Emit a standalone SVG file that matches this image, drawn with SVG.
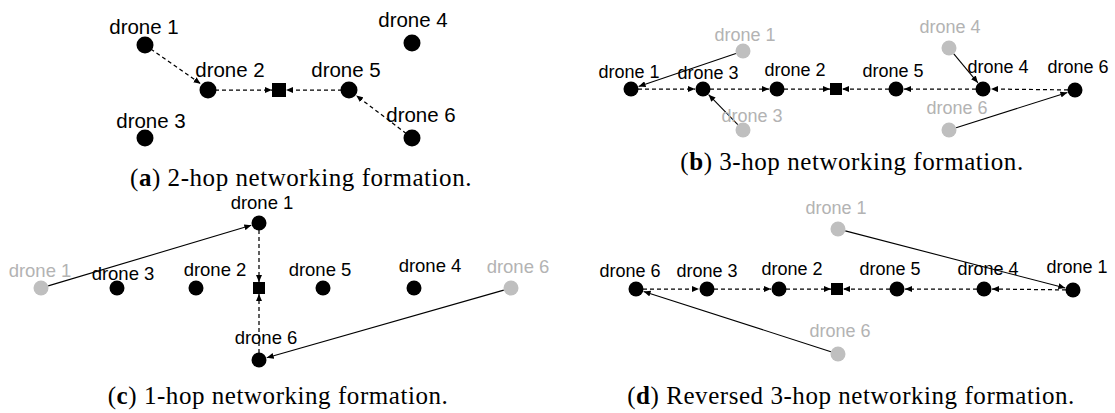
<svg xmlns="http://www.w3.org/2000/svg" width="1115" height="413" viewBox="0 0 1115 413">
  <style>
    .lbl { font-family: "Liberation Sans", Arial, sans-serif; fill: #000; text-anchor: middle; }
    .a { font-size: 20.5px; }
    .s { font-size: 18px; }
    .c { font-size: 18.5px; }
    .ghost { fill: #b3b3b3; }
    .dot { fill: #000; }
    .gdot { fill: #bfbfbf; }
    .dash { stroke: #000; stroke-width: 1.25; stroke-dasharray: 4 3; fill: none; marker-end: url(#tip); }
    .move { stroke: #000; stroke-width: 1.1; fill: none; marker-end: url(#tip); }
    .cap { font-family: "Liberation Serif", "Times New Roman", serif; font-size: 25px; letter-spacing: 0.55px; text-anchor: middle; fill: #000; }
  </style>
  <defs>
    <marker id="tip" viewBox="0 0 7 6" refX="7" refY="3" markerWidth="7" markerHeight="6" markerUnits="userSpaceOnUse" orient="auto">
      <path d="M0,0 L7,3 L0,6 z" fill="#000"/>
    </marker>
  </defs>

  <!-- links and relocation moves -->
  <g id="connectors">
    <!-- (a) 2-hop -->
    <line class="dash" x1="145" y1="45" x2="200.6" y2="83.8"/>
    <line class="dash" x1="208" y1="90" x2="272" y2="90"/>
    <line class="dash" x1="349" y1="90" x2="286" y2="90"/>
    <line class="dash" x1="412" y1="138" x2="356.2" y2="95.5"/>
    <!-- (b) 3-hop -->
    <line class="dash" x1="631" y1="89" x2="695" y2="89"/>
    <line class="dash" x1="703" y1="89" x2="769" y2="89"/>
    <line class="dash" x1="777" y1="89" x2="830" y2="89"/>
    <line class="dash" x1="896" y1="89" x2="842" y2="89"/>
    <line class="dash" x1="983" y1="89" x2="904" y2="89"/>
    <line class="dash" x1="1075" y1="90" x2="991" y2="89"/>
    <line class="move" x1="735.9" y1="53.4" x2="638.6" y2="86.4"/>
    <line class="move" x1="737.8" y1="124.6" x2="708.6" y2="94.7"/>
    <line class="move" x1="953.8" y1="53.8" x2="977.9" y2="82.8"/>
    <line class="move" x1="956.1" y1="127.7" x2="1067.4" y2="92.4"/>
    <!-- (c) 1-hop -->
    <line class="dash" x1="259" y1="223" x2="259" y2="282"/>
    <line class="dash" x1="259" y1="360" x2="259" y2="294"/>
    <line class="move" x1="48.2" y1="285.9" x2="251.3" y2="225.3"/>
    <line class="move" x1="503.8" y1="290.1" x2="266.7" y2="357.8"/>
    <!-- (d) reversed 3-hop -->
    <line class="dash" x1="636" y1="289" x2="699" y2="289"/>
    <line class="dash" x1="707" y1="289" x2="771" y2="289"/>
    <line class="dash" x1="779" y1="289" x2="831" y2="289"/>
    <line class="dash" x1="897" y1="289" x2="843" y2="289"/>
    <line class="dash" x1="984" y1="289" x2="905" y2="289"/>
    <line class="dash" x1="1073" y1="290" x2="992" y2="289"/>
    <line class="move" x1="845.3" y1="230.9" x2="1065.3" y2="288"/>
    <line class="move" x1="830.9" y1="351.7" x2="643.6" y2="291.4"/>
  </g>

  <!-- (a) 2-hop networking formation -->
  <g id="a-drone1"><circle class="dot" cx="145" cy="45" r="8.5"/><text class="lbl a" x="144" y="34">drone 1</text></g>
  <g id="a-drone2"><circle class="dot" cx="208" cy="90" r="8.5"/><text class="lbl a" x="230" y="77">drone 2</text></g>
  <g id="a-sink"><rect x="272" y="83" width="14" height="14" fill="#000"/></g>
  <g id="a-drone5"><circle class="dot" cx="349" cy="90" r="8.5"/><text class="lbl a" x="346" y="77">drone 5</text></g>
  <g id="a-drone4"><circle class="dot" cx="412" cy="43" r="8.5"/><text class="lbl a" x="413" y="27">drone 4</text></g>
  <g id="a-drone6"><circle class="dot" cx="412" cy="138" r="8.5"/><text class="lbl a" x="421" y="122">drone 6</text></g>
  <g id="a-drone3"><circle class="dot" cx="145" cy="138" r="8.5"/><text class="lbl a" x="151" y="128">drone 3</text></g>
  <text class="cap" x="301" y="186">(<tspan font-weight="bold">a</tspan>) 2-hop networking formation.</text>

  <!-- (b) 3-hop networking formation -->
  <g id="b-old1"><circle class="gdot" cx="743" cy="51" r="7.5"/><text class="lbl s ghost" x="745" y="41">drone 1</text></g>
  <g id="b-old4"><circle class="gdot" cx="949" cy="48" r="7.5"/><text class="lbl s ghost" x="950" y="33">drone 4</text></g>
  <g id="b-old3"><circle class="gdot" cx="743" cy="130" r="7.5"/><text class="lbl s ghost" x="752" y="122">drone 3</text></g>
  <g id="b-old6"><circle class="gdot" cx="949" cy="130" r="7.5"/><text class="lbl s ghost" x="957" y="114">drone 6</text></g>
  <g id="b-drone1"><circle class="dot" cx="631" cy="89" r="7.5"/><text class="lbl s" x="629" y="78">drone 1</text></g>
  <g id="b-drone3"><circle class="dot" cx="703" cy="89" r="7.5"/><text class="lbl s" x="708" y="79">drone 3</text></g>
  <g id="b-drone2"><circle class="dot" cx="777" cy="89" r="7.5"/><text class="lbl s" x="795" y="76">drone 2</text></g>
  <g id="b-sink"><rect x="830" y="83" width="12" height="12" fill="#000"/></g>
  <g id="b-drone5"><circle class="dot" cx="896" cy="89" r="7.5"/><text class="lbl s" x="893" y="77">drone 5</text></g>
  <g id="b-drone4"><circle class="dot" cx="983" cy="89" r="7.5"/><text class="lbl s" x="998" y="73">drone 4</text></g>
  <g id="b-drone6"><circle class="dot" cx="1075" cy="90" r="7.5"/><text class="lbl s" x="1078" y="73">drone 6</text></g>
  <text class="cap" x="852" y="170">(<tspan font-weight="bold">b</tspan>) 3-hop networking formation.</text>

  <!-- (c) 1-hop networking formation -->
  <g id="c-old1"><circle class="gdot" cx="41" cy="288" r="7.5"/><text class="lbl c ghost" x="40" y="277">drone 1</text></g>
  <g id="c-old6"><circle class="gdot" cx="511" cy="288" r="7.5"/><text class="lbl c ghost" x="518" y="273">drone 6</text></g>
  <g id="c-drone1"><circle class="dot" cx="259" cy="223" r="7.5"/><text class="lbl c" x="262" y="209">drone 1</text></g>
  <g id="c-drone3"><circle class="dot" cx="117" cy="288" r="7.5"/><text class="lbl c" x="123" y="280">drone 3</text></g>
  <g id="c-drone2"><circle class="dot" cx="196" cy="288" r="7.5"/><text class="lbl c" x="215" y="276">drone 2</text></g>
  <g id="c-sink"><rect x="253" y="282" width="12" height="12" fill="#000"/></g>
  <g id="c-drone5"><circle class="dot" cx="323" cy="288" r="7.5"/><text class="lbl c" x="320" y="276">drone 5</text></g>
  <g id="c-drone4"><circle class="dot" cx="414" cy="288" r="7.5"/><text class="lbl c" x="430" y="272">drone 4</text></g>
  <g id="c-drone6"><circle class="dot" cx="259" cy="360" r="7.5"/><text class="lbl c" x="266" y="344">drone 6</text></g>
  <text class="cap" x="278" y="404">(<tspan font-weight="bold">c</tspan>) 1-hop networking formation.</text>

  <!-- (d) reversed 3-hop networking formation -->
  <g id="d-old1"><circle class="gdot" cx="838" cy="229" r="7.5"/><text class="lbl s ghost" x="836" y="214">drone 1</text></g>
  <g id="d-old6"><circle class="gdot" cx="838" cy="354" r="7.5"/><text class="lbl s ghost" x="840" y="337">drone 6</text></g>
  <g id="d-drone6"><circle class="dot" cx="636" cy="289" r="7.5"/><text class="lbl s" x="630" y="277">drone 6</text></g>
  <g id="d-drone3"><circle class="dot" cx="707" cy="289" r="7.5"/><text class="lbl s" x="707" y="277">drone 3</text></g>
  <g id="d-drone2"><circle class="dot" cx="779" cy="289" r="7.5"/><text class="lbl s" x="792" y="275">drone 2</text></g>
  <g id="d-sink"><rect x="831" y="283" width="12" height="12" fill="#000"/></g>
  <g id="d-drone5"><circle class="dot" cx="897" cy="289" r="7.5"/><text class="lbl s" x="890" y="275">drone 5</text></g>
  <g id="d-drone4"><circle class="dot" cx="984" cy="289" r="7.5"/><text class="lbl s" x="988" y="275">drone 4</text></g>
  <g id="d-drone1"><circle class="dot" cx="1073" cy="290" r="7.5"/><text class="lbl s" x="1077" y="273">drone 1</text></g>
  <text class="cap" x="851" y="404">(<tspan font-weight="bold">d</tspan>) Reversed 3-hop networking formation.</text>
</svg>
